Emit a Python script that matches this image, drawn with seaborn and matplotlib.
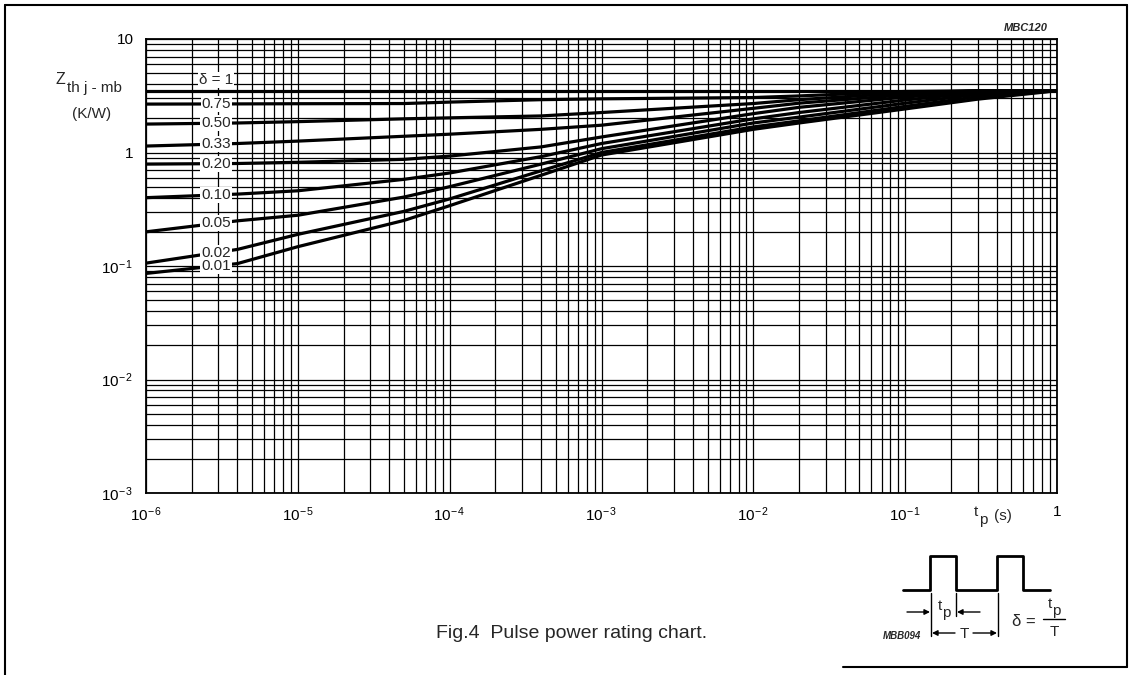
import matplotlib
matplotlib.use("Agg")
import matplotlib.pyplot as plt
import numpy as np
import pandas as pd
import seaborn as sns
from matplotlib.ticker import LogLocator, NullFormatter

# ---- data ----
tp = [1e-6, 4e-6, 1e-5, 5e-5, 1e-4, 4e-4, 1e-3, 1e-2, 2e-2, 1e-1, 3e-1, 1.0]

z_d100 = [3.5, 3.5, 3.5, 3.5, 3.5, 3.5, 3.5, 3.5, 3.5, 3.5, 3.5, 3.5]
z_d075 = [2.67, 2.68, 2.69, 2.70, 2.78, 2.92, 2.97, 3.05, 3.15, 3.45, 3.5, 3.5]
z_d050 = [1.78, 1.82, 1.87, 1.98, 2.02, 2.10, 2.25, 2.70, 2.92, 3.35, 3.5, 3.5]
z_d033 = [1.14, 1.20, 1.26, 1.39, 1.45, 1.60, 1.74, 2.45, 2.72, 3.22, 3.5, 3.5]
z_d020 = [0.79, 0.80, 0.82, 0.87, 0.93, 1.12, 1.37, 2.20, 2.50, 3.08, 3.45, 3.5]
z_d010 = [0.40, 0.43, 0.46, 0.58, 0.66, 0.92, 1.20, 1.98, 2.25, 2.90, 3.38, 3.5]
z_d005 = [0.20, 0.25, 0.28, 0.405, 0.50, 0.79, 1.08, 1.82, 2.05, 2.72, 3.25, 3.5]
z_d002 = [0.106, 0.14, 0.19, 0.303, 0.39, 0.69, 1.00, 1.68, 1.90, 2.55, 3.10, 3.5]
z_d001 = [0.086, 0.105, 0.148, 0.252, 0.34, 0.63, 0.95, 1.60, 1.82, 2.42, 2.95, 3.5]

deltas = ["δ = 1", "0.75", "0.50", "0.33", "0.20", "0.10", "0.05", "0.02", "0.01"]
curves = [z_d100, z_d075, z_d050, z_d033, z_d020, z_d010, z_d005, z_d002, z_d001]

xtick_vals = [1e-6, 1e-5, 1e-4, 1e-3, 1e-2, 1e-1, 1]
xtick_labels = [r"$10^{-\,6}$", r"$10^{-\,5}$", r"$10^{-\,4}$", r"$10^{-\,3}$",
                r"$10^{-\,2}$", r"$10^{-\,1}$", "1"]
ytick_vals = [1e-3, 1e-2, 1e-1, 1, 10]
ytick_labels = [r"$10^{-\,3}$", r"$10^{-\,2}$", r"$10^{-\,1}$", "1", "10"]

label_tp = 2.9e-6   # where the delta labels sit

rows = []
for name, zs in zip(deltas, curves):
    for t, z in zip(tp, zs):
        rows.append({"tp": t, "Z": z, "delta": name})
df = pd.DataFrame(rows)

# ---- style ----
sns.set_style("white")
plt.rcParams["font.family"] = ["Liberation Sans", "DejaVu Sans"]
plt.rcParams["mathtext.fontset"] = "custom"
plt.rcParams["mathtext.rm"] = "Liberation Sans"
plt.rcParams["mathtext.it"] = "Liberation Sans:italic"
plt.rcParams["mathtext.bf"] = "Liberation Sans:bold"

W, H = 1134, 675
fig = plt.figure(figsize=(W / 100, H / 100), dpi=100)
fig.patch.set_facecolor("white")
ax = fig.add_axes([146 / W, 1 - 493 / H, 911 / W, 454 / H])

ax.set_xscale("log")
ax.set_yscale("log")
ax.set_xlim(1e-6, 1)
ax.set_ylim(1e-3, 10)

sns.lineplot(data=df, x="tp", y="Z", hue="delta", palette=["black"] * len(deltas),
             estimator=None, sort=True, legend=False, lw=2.3, ax=ax, zorder=3)

# grid on every 1..9 of each decade
ax.xaxis.set_minor_locator(LogLocator(base=10, subs=np.arange(2, 10), numticks=20))
ax.yaxis.set_minor_locator(LogLocator(base=10, subs=np.arange(2, 10), numticks=20))
ax.xaxis.set_minor_formatter(NullFormatter())
ax.yaxis.set_minor_formatter(NullFormatter())
ax.set_xticks(xtick_vals, xtick_labels)
ax.set_yticks(ytick_vals, ytick_labels)
ax.grid(which="both", color="black", lw=0.9, zorder=1)
ax.tick_params(which="both", length=0, labelsize=11, colors="black")
ax.tick_params(axis="x", pad=9)
ax.tick_params(axis="y", pad=9)
for sp in ax.spines.values():
    sp.set_color("black")
    sp.set_linewidth(1.3)
ax.set_xlabel("")
ax.set_ylabel("")

# delta labels on the curves
for name, zs in zip(deltas, curves):
    yl = np.exp(np.interp(np.log(label_tp), np.log(tp), np.log(zs)))
    if name.startswith("δ"):
        yl = yl * 1.25
    ax.text(label_tp, yl, name, ha="center", va="center", fontsize=11, zorder=5,
            bbox=dict(boxstyle="square,pad=0.06", fc="white", ec="none"))

# ---- overlay in pixel coordinates for frame, titles and pulse sketch ----
ov = fig.add_axes([0, 0, 1, 1], facecolor="none")
ov.set_xlim(0, W)
ov.set_ylim(H, 0)
ov.axis("off")

k = dict(color="black", lw=1.5)
ov.plot([5, 5], [5, 675], **k)
ov.plot([5, 1127], [5, 5], **k)
ov.plot([1127, 1127], [5, 667], **k)
ov.plot([843, 1127], [667, 667], **k)

ov.text(55, 80, "Z", fontsize=11.5, ha="left", va="center")
ov.text(67, 88, "th j - mb", fontsize=11, ha="left", va="center")
ov.text(92, 114, "(K/W)", fontsize=11, ha="center", va="center")
ov.text(974, 512, "t", fontsize=11, ha="left", va="center")
ov.text(979, 520, "p", fontsize=11, ha="left", va="center")
ov.text(994, 516, "(s)", fontsize=11, ha="left", va="center")
ov.text(1048, 28, "MBC120", fontsize=8, style="italic", weight="bold", ha="right", va="center")
ov.text(436, 634, "Fig.4  Pulse power rating chart.", fontsize=14, ha="left", va="center")

# pulse sketch
ov.plot([903, 930, 930, 956, 956, 997, 997, 1023, 1023, 1050],
        [590, 590, 556, 556, 590, 590, 556, 556, 590, 590], color="black", lw=2)
ov.plot([931, 931], [593, 636], color="black", lw=1)
ov.plot([956, 956], [593, 616], color="black", lw=1)
ov.plot([998, 998], [593, 636], color="black", lw=1)
ap = dict(arrowstyle="-|>", color="black", lw=1, mutation_scale=8, shrinkA=0, shrinkB=0)
ov.annotate("", xy=(930, 612), xytext=(907, 612), arrowprops=ap)
ov.annotate("", xy=(957, 612), xytext=(980, 612), arrowprops=ap)
ov.annotate("", xy=(932, 633), xytext=(955, 633), arrowprops=ap)
ov.annotate("", xy=(997, 633), xytext=(973, 633), arrowprops=ap)
ov.text(940, 606, "t", fontsize=11, ha="center", va="center")
ov.text(946, 613, "p", fontsize=11, ha="center", va="center")
ov.text(964, 634, "T", fontsize=11, ha="center", va="center")
ov.text(921, 636, "MBB094", fontsize=7, style="italic", weight="bold", ha="right", va="center")
ov.text(1012, 622, "δ =", fontsize=12, ha="left", va="center")
ov.text(1050, 604, "t", fontsize=11, ha="center", va="center")
ov.text(1056, 611, "p", fontsize=11, ha="center", va="center")
ov.plot([1043, 1065], [619, 619], color="black", lw=1)
ov.text(1054, 632, "T", fontsize=11, ha="center", va="center")

fig.savefig("out.png", dpi=100)
